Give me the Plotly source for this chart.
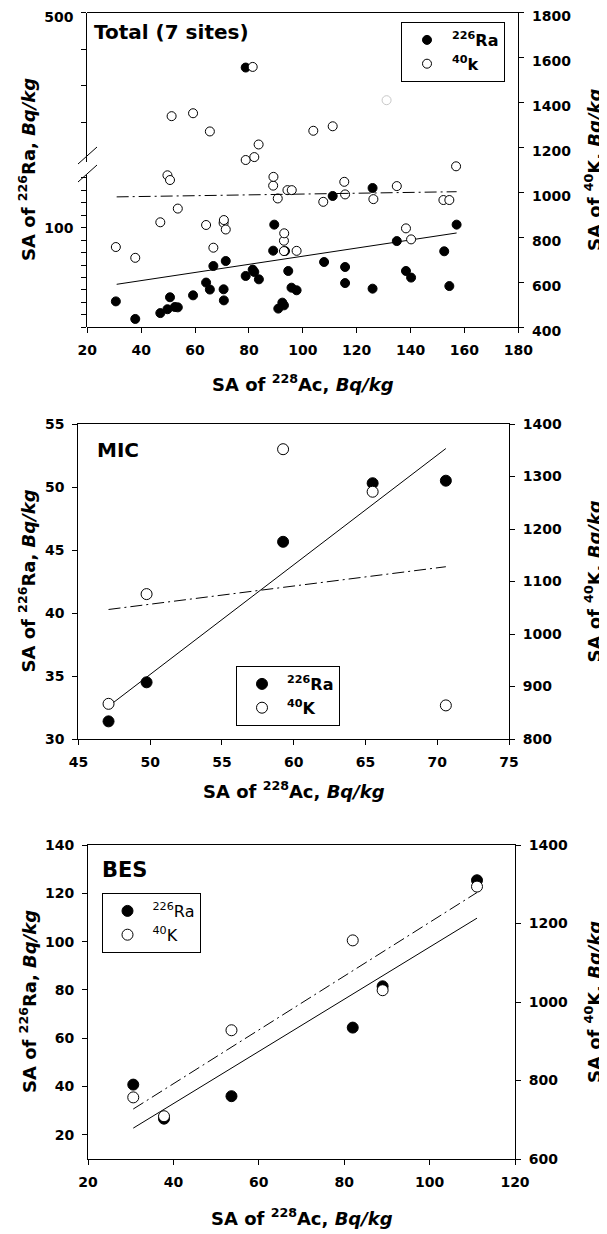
import numpy as np
import plotly.graph_objects as go

W, H = 607, 1234          # target picture size
OFF = 8                   # page body margin that shifts the figure
FW, FH = W - OFF, H - OFF  # figure size
FONT = "DejaVu Sans"

# ---------------- data ----------------
# Total (7 sites)
total_ra_x = [30.6, 37.8, 47.1, 49.75, 50.7, 52.5, 53.6, 59.26, 64.1, 65.5,
              66.8, 70.6, 70.7, 71.4, 78.8, 78.8, 81.4, 82.0, 83.7, 89.0,
              89.4, 90.9, 92.4, 93.0, 93.4, 94.6, 95.8, 97.7, 107.9, 111.1,
              115.7, 115.7, 125.9, 125.9, 134.9, 138.3, 140.2, 152.5, 154.4, 157.1]
total_ra = [40.8, 26.7, 31.4, 34.5, 44.1, 36.3, 36.0, 45.65, 55.9, 50.3,
            69.2, 50.5, 41.6, 73.2, 61.2, 350.0, 66.3, 64.4, 58.5, 81.5,
            102.4, 35.0, 39.8, 37.6, 81.2, 65.2, 51.8, 49.7, 72.4, 125.4,
            68.4, 55.5, 131.8, 51.0, 89.2, 65.2, 59.9, 81.0, 53.1, 102.4]
total_k_x = [30.6, 37.8, 47.1, 49.75, 50.7, 51.3, 53.6, 59.26, 64.1, 65.5,
             66.8, 70.6, 70.7, 71.4, 78.8, 81.4, 82.0, 83.6, 89.0, 89.1,
             90.7, 93.0, 93.0, 93.1, 94.3, 95.9, 97.7, 103.9, 107.6, 111.1,
             115.4, 115.7, 126.2, 134.9, 138.3, 140.2, 152.2, 154.4, 156.9]
total_k = [757, 709, 867, 1076, 1055, 1339, 928, 1352, 855, 1271,
           754, 864, 877, 835, 1144, 1558, 1157, 1213, 1030, 1069,
           973, 739, 785, 818, 1010, 1010, 740, 1274, 958, 1294,
           1047, 991, 970, 1028, 840, 791, 966, 966, 1116]
# faint (poorly printed) 40K point in the scan
total_k_faint_x = [131.1]
total_k_faint = [1410]
# regression lines as printed (end points)
total_fit_x = [30.9, 157.1]
total_fit_ra = [54.5, 95.7]
total_fit_k = [980, 1003]

# MIC
mic_x = [47.1, 49.75, 59.26, 65.5, 70.6]
mic_ra = [31.4, 34.5, 45.65, 50.3, 50.5]
mic_k = [867, 1076, 1352, 1271, 864]

# BES
bes_x = [30.6, 37.8, 53.6, 82.0, 89.0, 111.1]
bes_ra = [40.8, 26.7, 36.0, 64.4, 81.5, 125.4]
bes_k = [757, 709, 928, 1157, 1030, 1294]

# tick values
top_x_ticks = [20, 40, 60, 80, 100, 120, 140, 160, 180]
top_low_major = [100]
top_low_minor = [20, 30, 40, 50, 60, 70, 80, 90, 110, 120, 130, 140]
top_up_major = [500]
top_up_minor = [200, 300, 400]
top_k_ticks = [400, 600, 800, 1000, 1200, 1400, 1600, 1800]
mic_x_ticks = [45, 50, 55, 60, 65, 70, 75]
mic_ra_ticks = [30, 35, 40, 45, 50, 55]
mic_k_ticks = [800, 900, 1000, 1100, 1200, 1300, 1400]
bes_x_ticks = [20, 40, 60, 80, 100, 120]
bes_ra_ticks = [20, 40, 60, 80, 100, 120, 140]
bes_k_ticks = [600, 800, 1000, 1200, 1400]

RA_NAME = "<sup>226</sup>Ra"
K_NAME_TOP = "<sup>40</sup>k"
K_NAME = "<sup>40</sup>K"
Y_LEFT_TITLE = "SA of <sup>226</sup>Ra, <i>Bq/kg</i>"
Y_RIGHT_TITLE = "SA of <sup>40</sup>K, <i>Bq/kg</i>"
X_TITLE = "SA of <sup>228</sup>Ac, <i>Bq/kg</i>"


# ---------------- helpers ----------------
def fx(p):
    return (p - OFF) / FW


def fy(p):
    return 1 - (p - OFF) / FH


def fit_line(x, y):
    a, b = np.polyfit(np.asarray(x, float), np.asarray(y, float), 1)
    xs = np.array([min(x), max(x)])
    return xs, a * xs + b


tick_font = dict(family=FONT, size=14, color="black", weight="bold")
DASHDOT = "12px,4px,2px,4px"


def axis_common(**kw):
    d = dict(showline=True, linecolor="black", linewidth=1, ticks="outside",
             ticklen=5, tickwidth=1, tickcolor="black", showgrid=False,
             zeroline=False, tickfont=tick_font, automargin=False,
             ticklabelstandoff=5, ticklabeloverflow="allow")
    d.update(kw)
    return d


def open_marker(size):
    return dict(symbol="circle", size=size, color="white", line=dict(color="black", width=1))


def filled_marker(size):
    return dict(symbol="circle", size=size, color="black", line=dict(color="black", width=1))


fig = go.Figure()

# ---------------- top panel ----------------
T_X0, T_X1, T_Y0, T_Y1 = 87.3, 518.3, 12.5, 327.3
LOW_TOP = 175.0     # top pixel of lower left segment
UP_BOT = 162.0      # bottom pixel of upper left segment
LOW_PPU = 1.246     # pixels per unit in lower segment
UP_PPU = 0.367      # pixels per unit in upper segment
low_range = [20, 20 + (T_Y1 - LOW_TOP) / LOW_PPU]
up_range = [500 - (UP_BOT - T_Y0) / UP_PPU, 500]
BREAK = low_range[1]

ra_arr = np.array(total_ra)
rx_arr = np.array(total_ra_x)
low_mask = ra_arr <= BREAK

fig.add_trace(go.Scatter(x=total_k_faint_x, y=total_k_faint, mode="markers", xaxis="x",
                         yaxis="y3", showlegend=False,
                         marker=dict(symbol="circle", size=9, color="white",
                                     line=dict(color="#c8c8c8", width=1))))
fig.add_trace(go.Scatter(x=total_k_x, y=total_k, mode="markers", xaxis="x", yaxis="y3",
                         name=K_NAME_TOP, legend="legend", legendrank=2,
                         marker=open_marker(9)))
fig.add_trace(go.Scatter(x=rx_arr[low_mask], y=ra_arr[low_mask], mode="markers",
                         xaxis="x", yaxis="y", name=RA_NAME, legend="legend", legendrank=1,
                         marker=filled_marker(9)))
fig.add_trace(go.Scatter(x=rx_arr[~low_mask], y=ra_arr[~low_mask], mode="markers",
                         xaxis="x", yaxis="y2", showlegend=False, marker=filled_marker(9)))
fig.add_trace(go.Scatter(x=total_fit_x, y=total_fit_ra, mode="lines", xaxis="x", yaxis="y",
                         showlegend=False, line=dict(color="black", width=1)))
fig.add_trace(go.Scatter(x=total_fit_x, y=total_fit_k, mode="lines", xaxis="x", yaxis="y3",
                         showlegend=False, line=dict(color="black", width=1, dash=DASHDOT)))

# ---------------- middle panel ----------------
M_X0, M_X1, M_Y0, M_Y1 = 78.4, 509.0, 424.0, 739.0
fig.add_trace(go.Scatter(x=mic_x, y=mic_k, mode="markers", xaxis="x2", yaxis="y5",
                         name=K_NAME, legend="legend2", legendrank=2, marker=open_marker(11)))
fig.add_trace(go.Scatter(x=mic_x, y=mic_ra, mode="markers", xaxis="x2", yaxis="y4",
                         name=RA_NAME, legend="legend2", legendrank=1, marker=filled_marker(11)))
lx, ly = fit_line(mic_x, mic_ra)
fig.add_trace(go.Scatter(x=lx, y=ly, mode="lines", xaxis="x2", yaxis="y4", showlegend=False,
                         line=dict(color="black", width=1)))
lx, ly = fit_line(mic_x, mic_k)
fig.add_trace(go.Scatter(x=lx, y=ly, mode="lines", xaxis="x2", yaxis="y5", showlegend=False,
                         line=dict(color="black", width=1, dash=DASHDOT)))

# ---------------- bottom panel ----------------
B_X0, B_X1, B_Y0, B_Y1 = 88.0, 515.0, 845.0, 1159.0
fig.add_trace(go.Scatter(x=bes_x, y=bes_k, mode="markers", xaxis="x3", yaxis="y7",
                         name=K_NAME, legend="legend3", legendrank=2, marker=open_marker(11)))
fig.add_trace(go.Scatter(x=bes_x, y=bes_ra, mode="markers", xaxis="x3", yaxis="y6",
                         name=RA_NAME, legend="legend3", legendrank=1, marker=filled_marker(11)))
lx, ly = fit_line(bes_x, bes_ra)
fig.add_trace(go.Scatter(x=lx, y=ly, mode="lines", xaxis="x3", yaxis="y6", showlegend=False,
                         line=dict(color="black", width=1)))
lx, ly = fit_line(bes_x, bes_k)
fig.add_trace(go.Scatter(x=lx, y=ly, mode="lines", xaxis="x3", yaxis="y7", showlegend=False,
                         line=dict(color="black", width=1, dash=DASHDOT)))

minor_style = dict(ticks="outside", ticklen=5, tickwidth=1, tickcolor="black", showgrid=False)

legend_common = dict(xanchor="left", yanchor="top", bgcolor="white", bordercolor="black",
                     borderwidth=1, itemwidth=40)

fig.update_layout(
    width=FW, height=FH, margin=dict(l=0, r=0, t=0, b=0),
    paper_bgcolor="white", plot_bgcolor="rgba(0,0,0,0)",
    font=dict(family=FONT, color="black"),
    # top panel
    xaxis=axis_common(domain=[fx(T_X0), fx(T_X1)], range=[20, 180], anchor="y3",
                      mirror=True, tickvals=top_x_ticks),
    yaxis=axis_common(domain=[fy(T_Y1), fy(LOW_TOP)], range=low_range, anchor="x",
                      side="left", tickvals=top_low_major,
                      minor=dict(tickvals=top_low_minor, **minor_style)),
    yaxis2=axis_common(domain=[fy(UP_BOT), fy(T_Y0)], range=up_range, anchor="x",
                       side="left", tickvals=top_up_major, ticklabelshift=5,
                       minor=dict(tickvals=top_up_minor, **minor_style)),
    yaxis3=axis_common(domain=[fy(T_Y1), fy(T_Y0)], range=[400, 1800], anchor="x",
                       side="right", tickvals=top_k_ticks, ticklabelshift=4),
    # middle panel
    xaxis2=axis_common(domain=[fx(M_X0), fx(M_X1)], range=[45, 75], anchor="y4",
                       mirror=True, tickvals=mic_x_ticks),
    yaxis4=axis_common(domain=[fy(M_Y1), fy(M_Y0)], range=[30, 55], anchor="x2",
                       side="left", tickvals=mic_ra_ticks),
    yaxis5=axis_common(range=[800, 1400], anchor="x2", overlaying="y4",
                       side="right", tickvals=mic_k_ticks),
    # bottom panel
    xaxis3=axis_common(domain=[fx(B_X0), fx(B_X1)], range=[20, 120], anchor="y6",
                       mirror=True, tickvals=bes_x_ticks),
    yaxis6=axis_common(domain=[fy(B_Y1), fy(B_Y0)], range=[10, 140], anchor="x3",
                       side="left", tickvals=bes_ra_ticks),
    yaxis7=axis_common(range=[600, 1400], anchor="x3", overlaying="y6",
                       side="right", tickvals=bes_k_ticks),
    legend=dict(x=fx(401), y=fy(22),
                font=dict(family=FONT, size=16, color="black", weight="bold"), **legend_common),
    legend2=dict(x=fx(236), y=fy(666),
                 font=dict(family=FONT, size=16, color="black", weight="bold"), **legend_common),
    legend3=dict(x=fx(101.5), y=fy(893),
                 font=dict(family=FONT, size=16, color="black"), **legend_common),
    showlegend=True,
)

# axis titles and panel labels as annotations
ann = []


def add_title(text, xp, yp, angle=0, size=18):
    ann.append(dict(text=text, x=fx(xp), y=fy(yp), xref="paper", yref="paper",
                    showarrow=False, textangle=angle, xanchor="center", yanchor="middle",
                    font=dict(family=FONT, size=size, color="black", weight="bold")))


add_title(Y_LEFT_TITLE, 27, (T_Y0 + T_Y1) / 2, -90)
add_title(Y_RIGHT_TITLE, 593, (T_Y0 + T_Y1) / 2, -90)
add_title(X_TITLE, (T_X0 + T_X1) / 2, 383)
add_title(Y_LEFT_TITLE, 27, (M_Y0 + M_Y1) / 2, -90)
add_title(Y_RIGHT_TITLE, 593, (M_Y0 + M_Y1) / 2, -90)
add_title(X_TITLE, (M_X0 + M_X1) / 2, 790)
add_title(Y_LEFT_TITLE, 28, (B_Y0 + B_Y1) / 2, -90)
add_title(Y_RIGHT_TITLE, 593, (B_Y0 + B_Y1) / 2, -90)
add_title(X_TITLE, (B_X0 + B_X1) / 2, 1217)

for txt, xp, yp, sz in [("Total (7 sites)", 92, 32, 20), ("MIC", 94.6, 450, 20), ("BES", 99.6, 870, 21)]:
    ann.append(dict(text=txt, x=fx(xp), y=fy(yp), xref="paper", yref="paper",
                    showarrow=False, xanchor="left", yanchor="middle",
                    font=dict(family=FONT, size=sz, color="black", weight="bold")))
fig.update_layout(annotations=ann)

# axis-break marks on the left axis of the top panel
shapes = []
for (x0, y0, x1, y1) in [(78, 164, 97, 147), (78, 182, 97, 165)]:
    shapes.append(dict(type="line", xref="paper", yref="paper",
                       x0=fx(x0), y0=fy(y0), x1=fx(x1), y1=fy(y1),
                       line=dict(color="black", width=1)))
fig.update_layout(shapes=shapes)

fig.write_html("out.html", config={"displayModeBar": False})
